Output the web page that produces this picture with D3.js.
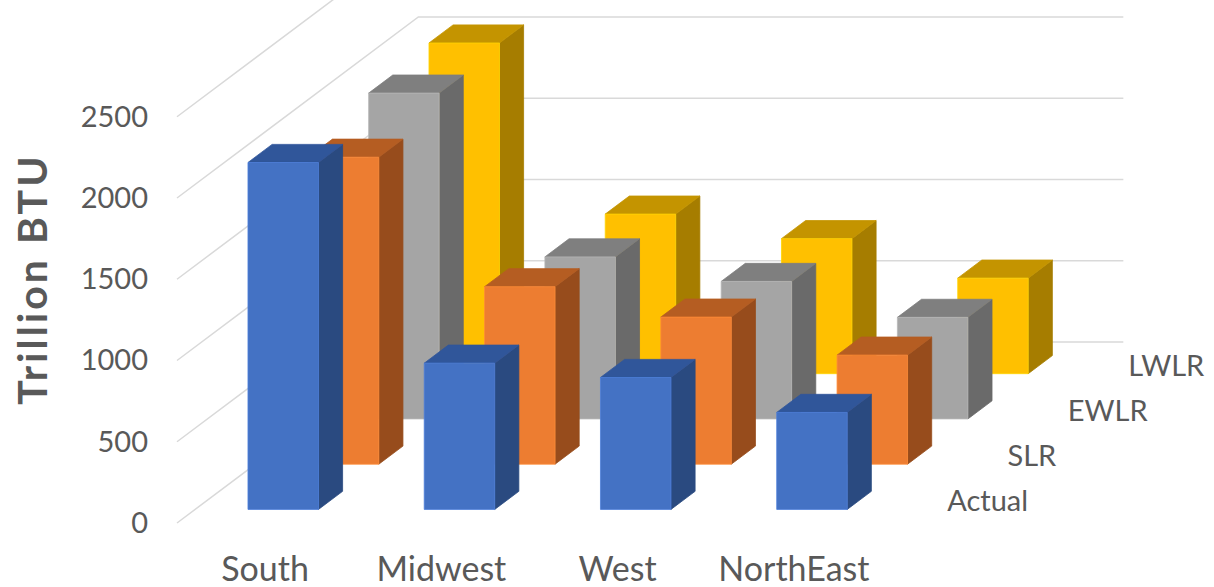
<!DOCTYPE html>
<html>
<head>
<meta charset="utf-8">
<script src="https://cdn.jsdelivr.net/npm/d3@7"></script>
<style>
  html, body { margin: 0; padding: 0; background: #fff; }
  svg { display: block; }
  text { font-family: Lato, "Open Sans", sans-serif; fill: #595959; }
</style>
</head>
<body>
<svg id="chart" width="1214" height="587"></svg>
<script>
// Regions along the category axis, scenarios along the depth axis
const categories = ["South", "Midwest", "West", "NorthEast"];
const seriesNames = ["Actual", "SLR", "EWLR", "LWLR"];
const actual = [2135, 900, 812, 597];
const slr    = [1889, 1092, 905, 671];
const ewlr   = [2005, 997, 846, 625];
const lwlr   = [2035, 982, 831, 588];
const valueTicks = [0, 500, 1000, 1500, 2000, 2500];

const seriesValues = [actual, slr, ewlr, lwlr];

// Face colours per series: front, top, side
const palette = [
  { front: "#4472C4", top: "#30569A", side: "#2A4A80" },
  { front: "#ED7D31", top: "#B55D22", side: "#974C1C" },
  { front: "#A5A5A5", top: "#7F7F7F", side: "#6A6A6A" },
  { front: "#FFC000", top: "#C49400", side: "#A67D00" }
];

const svg = d3.select("#chart");

// Oblique 3D frame: origin at front-left floor corner
const originX = 177, originY = 523;
const plotWidth = 705;      // front plane width
const depthRise = 181;      // vertical rise from front to back wall
const depthSlope = 4 / 3;   // horizontal shift per unit of rise

const x = d3.scaleBand().domain(categories).range([0, plotWidth])
  .paddingInner(0.6).paddingOuter(0.3);
const z = d3.scaleBand().domain(seriesNames).range([0, depthRise])
  .paddingInner(0.6).paddingOuter(0.3);
const v = d3.scaleLinear().domain([0, 2500]).range([0, 406.25]);

function P(px, pd, pv) {
  return [originX + px + pd * depthSlope, originY - pd - v(pv)];
}
const line = d3.line();

// Gridlines: along the left side wall, then across the back wall
const grid = svg.append("g").attr("fill", "none").attr("stroke", "#D9D9D9").attr("stroke-width", 1.5);
valueTicks.forEach(t => {
  grid.append("path").attr("d", line([P(0, 0, t), P(0, depthRise, t), P(plotWidth, depthRise, t)]));
});

// Bars, painted from the back row to the front row
const bars = svg.append("g");
for (let s = seriesNames.length - 1; s >= 0; s--) {
  const name = seriesNames[s];
  const d0 = z(name), d1 = d0 + z.bandwidth();
  const col = palette[s];
  for (let c = categories.length - 1; c >= 0; c--) {
    const val = seriesValues[s][c];
    const x0 = x(categories[c]), x1 = x0 + x.bandwidth();
    const g = bars.append("g").attr("stroke-width", 0.8).attr("stroke-linejoin", "round");
    g.append("path")
      .attr("d", line([P(x1, d0, 0), P(x1, d1, 0), P(x1, d1, val), P(x1, d0, val)]) + "Z")
      .attr("fill", col.side).attr("stroke", col.side);
    g.append("path")
      .attr("d", line([P(x0, d0, val), P(x1, d0, val), P(x1, d1, val), P(x0, d1, val)]) + "Z")
      .attr("fill", col.top).attr("stroke", col.top);
    g.append("path")
      .attr("d", line([P(x0, d0, 0), P(x1, d0, 0), P(x1, d0, val), P(x0, d0, val)]) + "Z")
      .attr("fill", col.front).attr("stroke", d3.color(col.front).brighter(0.3));
  }
}

// Value axis labels on the front-left edge
const yScreen = d3.scaleLinear().domain([0, 2500]).range([originY, originY - 406.25]);
const yAxis = svg.append("g")
  .attr("transform", `translate(${originX - 29},0)`)
  .call(d3.axisLeft(yScreen).tickValues(valueTicks).tickSize(0).tickPadding(0).tickFormat(d3.format("d")));
yAxis.select(".domain").remove();
yAxis.selectAll("text").style("font-size", "29px").style("font-family", "Lato, sans-serif").attr("fill", "#595959");

// Category axis labels under the front plane
const xScreen = d3.scaleBand().domain(categories).range([originX, originX + plotWidth])
  .paddingInner(0.6).paddingOuter(0.3);
const xAxis = svg.append("g")
  .attr("transform", `translate(0,${557})`)
  .call(d3.axisBottom(xScreen).tickSize(0).tickPadding(0));
xAxis.select(".domain").remove();
xAxis.selectAll("text").style("font-size", "34px").style("font-family", "Lato, sans-serif")
  .attr("fill", "#595959").attr("dy", "0.71em");

// Series labels along the right floor edge
svg.append("g").selectAll("text").data(seriesNames).join("text")
  .attr("x", d => P(plotWidth, z(d) + z.bandwidth() / 2, 0)[0] + 35)
  .attr("y", d => P(plotWidth, z(d) + z.bandwidth() / 2, 0)[1] + 11)
  .style("font-size", "29px")
  .text(d => d);

// Value axis title
svg.append("text")
  .attr("transform", "translate(47,279) rotate(-90)")
  .attr("text-anchor", "middle")
  .style("font-size", "41px").style("font-weight", "bold").style("letter-spacing", "3px")
  .text("Trillion BTU");
</script>
</body>
</html>
